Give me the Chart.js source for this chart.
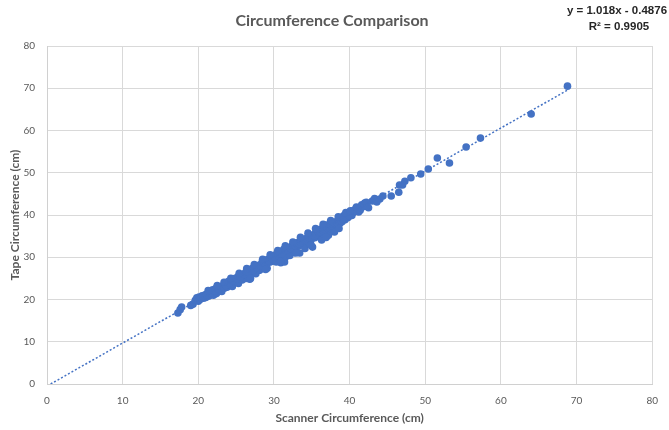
<!DOCTYPE html>
<html>
<head>
<meta charset="utf-8">
<script src="https://cdn.jsdelivr.net/npm/chart.js@4.4.1/dist/chart.umd.min.js"></script>
<style>
html,body{margin:0;padding:0;background:#fff;}
#wrap{width:669px;height:430px;position:relative;}
</style>
</head>
<body>
<div id="wrap"><canvas id="c" width="669" height="430"></canvas></div>
<script>
const chartTitle = "Circumference Comparison";
const xAxisTitle = "Scanner Circumference (cm)";
const yAxisTitle = "Tape Circumference (cm)";
const equationText = "y = 1.018x - 0.4876";
const r2Text = "R\u00B2 = 0.9905";
const trendSlope = 1.018;
const trendIntercept = -0.4876;
const trendXRange = [0.48, 68.8];
const axisTicks = [0, 10, 20, 30, 40, 50, 60, 70, 80];

const scannerCm = [
17.3,17.6,17.8,19.0,19.3,19.6,19.8,20.0,20.1,20.3,20.5,20.7,20.9,21.0,21.2,21.4,21.5,21.7,21.9,22.0,
22.1,22.3,22.4,22.6,22.8,23.0,23.1,23.3,23.5,23.7,23.8,24.0,24.2,24.4,24.5,24.7,24.9,25.0,25.2,25.3,
25.5,25.7,25.8,26.0,26.2,26.3,26.5,26.7,26.8,27.0,27.1,27.3,27.5,27.6,27.8,28.0,28.1,28.3,28.4,28.6,
28.8,28.9,29.1,29.2,29.4,29.6,29.7,29.9,30.0,30.2,30.3,30.4,30.6,30.8,30.9,31.0,31.2,31.3,31.4,31.5,
31.7,31.8,32.0,32.1,32.3,32.4,32.6,32.7,32.9,33.0,33.2,33.4,33.5,33.7,33.8,34.0,34.1,34.3,34.5,34.6,
34.8,34.9,35.1,35.2,35.4,35.5,35.7,35.8,36.0,36.2,36.3,36.4,36.6,36.8,36.9,37.1,37.2,37.4,37.5,37.7,
37.9,38.0,38.2,38.4,38.5,38.7,38.9,39.0,39.2,39.4,39.6,39.8,40.0,40.3,40.6,40.9,41.2,41.6,42.0,42.5,
43.0,43.3,44.0,44.4,45.5,46.5,46.6,47.0,47.3,48.1,49.4,50.4,51.6,53.2,55.4,57.3,64.0,68.8,
20.2,20.6,21.1,21.6,22.2,22.7,23.2,23.6,24.1,24.6,25.1,25.6,26.1,26.6,27.2,27.7,28.2,28.7,29.3,29.8,
30.1,30.5,30.7,31.1,31.6,31.9,32.2,32.5,32.8,33.1,33.3,33.6,33.9,34.2,34.4,34.7,35.0,35.3,35.6,35.9,
36.1,36.5,36.7,37.0,37.3,37.6,37.8,38.1,38.3,38.6,38.8,39.1,39.3,39.7,39.9,40.4,40.8,41.4,41.9,42.3,
24.3,25.4,26.4,27.4,28.5,29.5,30.5,31.5,32.5,33.5,34.5,35.5,36.5,37.5,38.5,39.5,
26.9,28.9,30.9,32.9,34.9,36.9,38.6,21.3,22.5,23.4,40.1,41.0,42.2,43.6
];
const tapeCm = [
16.8,17.6,18.2,18.6,18.9,19.8,20.4,19.6,20.6,20.1,20.9,20.3,21.1,20.5,21.4,20.8,21.9,21.2,22.3,21.0,
21.7,22.6,21.4,22.1,23.0,22.4,21.9,23.2,22.7,23.6,22.9,24.3,23.5,24.7,23.1,24.2,25.0,24.4,25.3,23.8,
24.9,25.8,24.6,25.4,26.3,25.0,26.0,26.9,24.8,26.2,27.3,26.6,27.8,26.1,27.2,28.1,26.9,27.6,28.7,27.9,
29.2,28.3,27.4,29.5,28.8,29.9,29.0,30.3,29.4,30.6,28.9,29.8,31.0,30.2,28.7,31.4,30.6,31.9,28.9,30.0,
31.2,32.3,31.5,30.4,32.6,31.8,32.9,31.1,32.2,33.4,32.6,31.0,33.8,32.9,34.2,33.3,32.1,34.5,33.7,34.9,
33.1,34.1,32.4,35.3,34.6,35.8,34.9,36.3,35.2,36.7,34.1,35.6,37.0,36.0,37.6,36.4,35.2,37.9,36.8,38.2,
37.3,36.0,38.4,37.6,38.9,38.0,39.3,38.4,39.8,38.9,40.2,39.4,40.7,39.9,41.2,41.9,40.7,42.4,42.8,41.7,
43.3,43.9,43.8,44.5,44.5,45.4,47.1,47.1,48.0,48.8,49.7,50.9,53.5,52.3,56.1,58.2,63.9,70.5,
20.0,20.7,21.0,21.5,22.0,22.5,23.0,23.3,23.9,24.5,24.9,25.3,25.9,26.4,26.9,27.5,28.0,28.5,29.1,29.6,
30.0,30.4,30.7,30.9,31.6,31.8,32.1,32.3,32.7,33.0,33.2,33.5,33.8,34.0,34.3,34.5,34.9,35.1,35.4,35.8,
36.0,36.3,36.6,37.0,37.1,37.5,37.8,38.0,38.2,38.6,38.7,39.0,39.4,39.6,39.9,40.5,41.0,41.1,42.0,42.2,
25.0,26.2,27.3,28.3,29.5,30.6,31.6,32.7,33.6,34.7,35.7,36.8,37.8,38.7,39.6,40.6,
25.0,27.1,29.0,31.0,32.9,34.7,36.8,22.1,23.3,24.1,41.0,41.6,43.0,43.1
];

const points = scannerCm.map((x, i) => ({x: x, y: tapeCm[i]}));
const trendPoints = trendXRange.map(x => ({x: x, y: trendSlope * x + trendIntercept}));

const textPlugin = {
  id: 'texts',
  afterDraw(chart) {
    const ctx = chart.ctx;
    ctx.save();
    ctx.fillStyle = '#595959';
    ctx.textAlign = 'center';
    ctx.textBaseline = 'middle';
    ctx.font = 'bold 16px Lato';
    ctx.fillText(chartTitle, 332, 21);
    ctx.fillStyle = '#262626';
    ctx.font = 'bold 11.5px "Liberation Sans Narrow", "Liberation Sans"';
    ctx.fillText(equationText, 617, 11);
    ctx.fillText(r2Text, 619, 27);
    ctx.restore();
  }
};

new Chart(document.getElementById('c'), {
  type: 'scatter',
  data: {
    datasets: [
      {
        type: 'line',
        data: trendPoints,
        borderColor: '#4472C4',
        borderWidth: 1.5,
        borderDash: [2, 2],
        pointRadius: 0,
        fill: false,
        order: 0
      },
      {
        data: points,
        backgroundColor: '#4472C4',
        borderColor: '#4472C4',
        borderWidth: 0,
        pointRadius: 3.8,
        order: 1
      }
    ]
  },
  options: {
    responsive: false,
    animation: false,
    devicePixelRatio: 1,
    layout: { padding: { top: 46, right: 16, left: 0, bottom: 0 } },
    plugins: { legend: { display: false }, tooltip: { enabled: false } },
    scales: {
      x: {
        type: 'linear', min: 0, max: 80,
        afterBuildTicks: s => { s.ticks = axisTicks.map(v => ({value: v})); },
        afterFit: s => { s.height = 46; },
        grid: { color: '#d9d9d9', drawTicks: false, lineWidth: 1 },
        border: { color: '#d0d0d0' },
        ticks: { padding: 11, color: '#595959', font: { family: 'Lato', size: 10 }, maxRotation: 0 },
        title: { display: true, text: xAxisTitle, color: '#595959', font: { family: 'Lato', size: 12, weight: 'bold' }, padding: { top: 0, bottom: 5 } }
      },
      y: {
        type: 'linear', min: 0, max: 80,
        afterBuildTicks: s => { s.ticks = axisTicks.map(v => ({value: v})); },
        afterFit: s => { s.width = 47; },
        grid: { color: '#d9d9d9', drawTicks: false, lineWidth: 1 },
        border: { color: '#d0d0d0' },
        ticks: { padding: 12, color: '#595959', font: { family: 'Lato', size: 10 } },
        title: { display: true, text: yAxisTitle, color: '#595959', font: { family: 'Lato', size: 12, weight: 'bold' }, padding: { top: 8, bottom: 0 } }
      }
    }
  },
  plugins: [textPlugin]
});
</script>
</body>
</html>
